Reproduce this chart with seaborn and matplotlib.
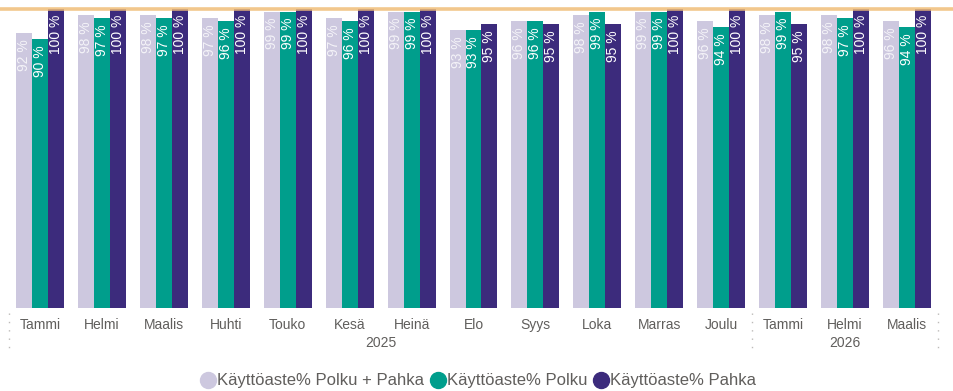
import numpy as np
import pandas as pd
import matplotlib
matplotlib.use("Agg")
import matplotlib.pyplot as plt
from matplotlib.lines import Line2D
from matplotlib import transforms
import seaborn as sns

# Monthly utilisation rates (%)
months = ["Tammi", "Helmi", "Maalis", "Huhti", "Touko", "Kesä", "Heinä",
          "Elo", "Syys", "Loka", "Marras", "Joulu", "Tammi", "Helmi", "Maalis"]
periods = ["2025-01", "2025-02", "2025-03", "2025-04", "2025-05", "2025-06",
           "2025-07", "2025-08", "2025-09", "2025-10", "2025-11", "2025-12",
           "2026-01", "2026-02", "2026-03"]
years = ["2025", "2026"]
year_months = [12, 3]

polku_pahka = [92, 98, 98, 97, 99, 97, 99, 93, 96, 98, 99, 96, 98, 98, 96]
polku = [90, 97, 97, 96, 99, 96, 99, 93, 96, 99, 99, 94, 99, 97, 94]
pahka = [100, 100, 100, 100, 100, 100, 100, 95, 95, 95, 100, 100, 95, 100, 100]
target = 100

series_names = ["Käyttöaste% Polku + Pahka", "Käyttöaste% Polku", "Käyttöaste% Pahka"]
series_values = [polku_pahka, polku, pahka]
colors = ["#CDC8DF", "#009E8C", "#3C2B7C"]
label_colors = ["#F4F3F8", "#FFFFFF", "#FFFFFF"]

df = pd.DataFrame({
    "period": periods * 3,
    "series": np.repeat(series_names, len(periods)),
    "value": np.concatenate(series_values),
})

sns.set_theme(style="white")
plt.rcParams["font.family"] = ["Liberation Sans", "DejaVu Sans"]

W, H = 954, 391
fig = plt.figure(figsize=(W / 100, H / 100), dpi=100)
ax_left, ax_right, ax_top, ax_bottom = 9, 938, 9, 308
ax = fig.add_axes([ax_left / W, (H - ax_bottom) / H,
                   (ax_right - ax_left) / W, (ax_bottom - ax_top) / H])

sns.barplot(data=df, x="period", y="value", hue="series", order=periods,
            hue_order=series_names, palette=colors, width=0.775, gap=0,
            saturation=1, edgecolor="none", linewidth=0, legend=False, ax=ax)

ax.set_xlim(-0.5, len(periods) - 0.5)
ax.set_ylim(0, 100)
ax.set_xlabel("")
ax.set_ylabel("")
ax.set_yticks([])
ax.set_xticks(range(len(periods)))
ax.set_xticklabels(months, fontsize=10, color="#605E5C")
ax.tick_params(axis="x", length=0, pad=7.5)
for s in ax.spines.values():
    s.set_visible(False)

# value labels inside the bars
for cont, lc in zip(ax.containers, label_colors):
    for bar, val in zip(cont, cont.datavalues):
        ax.annotate(f"{val:.0f} %", xy=(bar.get_x() + bar.get_width() / 2, val),
                    xytext=(0, -6), textcoords="offset pixels",
                    rotation=90, ha="center", va="top", fontsize=10, color=lc)

# target line across the whole width
span = ax_right - ax_left
ax.axhline(target, xmin=-ax_left / span, xmax=(W - ax_left) / span,
           color="#F0BE78", alpha=0.85, lw=2.6, clip_on=False, zorder=5)

# year labels and dotted separators
trans = transforms.blended_transform_factory(ax.transData, ax.transAxes)
start = 0
bounds = [-0.5]
for yr, n in zip(years, year_months):
    centre = start + (n - 1) / 2
    ax.annotate(yr, xy=(centre, 0), xycoords=trans, xytext=(0, -35),
                textcoords="offset pixels", ha="center", va="center",
                fontsize=10, color="#605E5C")
    start += n
    bounds.append(start - 0.5)
hpx = ax_bottom - ax_top
for b in bounds:
    ax.plot([b, b], [-5 / hpx, -45 / hpx], transform=trans, clip_on=False,
            color="#BDBBB9", lw=1, ls=(0, (1, 5)))

handles = [Line2D([], [], marker="o", ls="none", markersize=11.5,
                  markerfacecolor=c, markeredgecolor=c) for c in colors]
fig.legend(handles, series_names, loc="center", bbox_to_anchor=(478 / W, 1 - 381 / H),
           ncol=3, frameon=False, fontsize=12, handletextpad=0.05,
           columnspacing=0.3, handlelength=1.0, labelcolor="#605E5C")

fig.savefig("out.png", dpi=100)
